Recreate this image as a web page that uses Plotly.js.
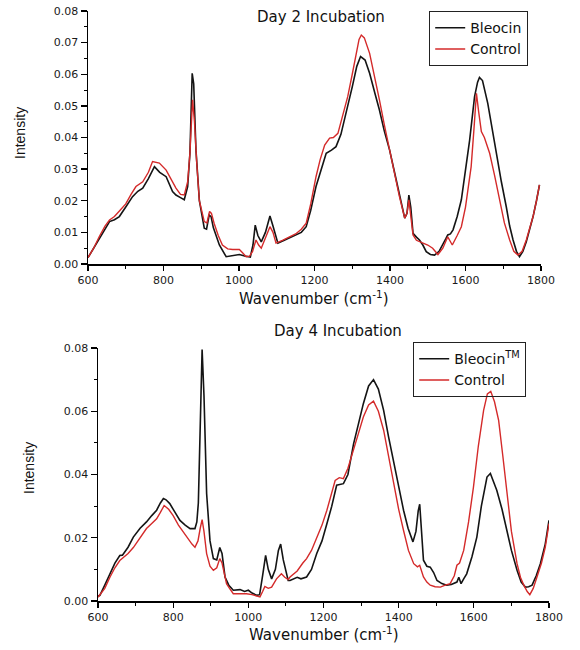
<!DOCTYPE html>
<html>
<head>
<meta charset="utf-8">
<script src="https://cdn.plot.ly/plotly-3.0.1.min.js"></script>
<style>
  html, body { margin: 0; padding: 0; background: #fff; }
  #chart { width: 580px; height: 650px; }
</style>
</head>
<body>
<div id="chart"></div>
<script>
// Raman spectra, Day 2 incubation
const day2BleocinWavenumber = [600,615,630,645,657,670,683,700,718,732,745,760,776,790,807,824,833,845,855,864,870,876,880,886,895,908,914,921,926,932,948,966,975,983,1001,1015,1030,1037,1043,1050,1059,1070,1082,1090,1103,1120,1134,1150,1165,1178,1190,1204,1218,1231,1245,1257,1270,1284,1300,1312,1322,1334,1346,1360,1372,1385,1399,1412,1425,1439,1445,1450,1455,1461,1470,1478,1487,1496,1507,1518,1530,1540,1548,1553,1560,1567,1578,1589,1600,1611,1624,1632,1637,1645,1659,1670,1682,1695,1708,1717,1726,1735,1743,1752,1761,1770,1779,1788,1796];
const day2BleocinIntensity = [0.002,0.005,0.0076,0.011,0.0134,0.014,0.015,0.018,0.0213,0.023,0.024,0.027,0.0308,0.029,0.0276,0.0229,0.0218,0.021,0.0203,0.0245,0.035,0.0603,0.057,0.036,0.020,0.0113,0.011,0.0155,0.015,0.0115,0.006,0.0023,0.0025,0.0028,0.003,0.0025,0.0022,0.006,0.0123,0.009,0.007,0.010,0.0152,0.012,0.0066,0.0075,0.0082,0.009,0.010,0.0118,0.017,0.0245,0.030,0.035,0.036,0.0371,0.041,0.0477,0.056,0.0625,0.0656,0.0645,0.0603,0.054,0.0487,0.042,0.036,0.029,0.0224,0.0145,0.016,0.0218,0.018,0.0097,0.0085,0.0076,0.006,0.0039,0.003,0.0028,0.004,0.006,0.008,0.0092,0.0095,0.0108,0.015,0.0203,0.029,0.0392,0.0529,0.0575,0.059,0.058,0.0508,0.043,0.035,0.026,0.0181,0.012,0.0076,0.004,0.0023,0.004,0.007,0.011,0.015,0.020,0.025];

const day2ControlWavenumber = [600,615,630,645,657,670,685,700,714,727,745,760,771,789,807,820,833,845,855,864,870,877,882,888,895,908,915,922,927,934,945,956,970,983,1001,1010,1019,1028,1036,1045,1052,1059,1070,1082,1090,1098,1115,1134,1150,1165,1178,1190,1204,1215,1227,1240,1250,1262,1275,1288,1300,1310,1318,1324,1332,1346,1360,1372,1385,1399,1412,1425,1439,1445,1450,1455,1461,1470,1487,1500,1513,1527,1540,1553,1558,1565,1578,1589,1600,1608,1615,1622,1629,1635,1642,1650,1664,1677,1690,1703,1717,1728,1739,1750,1761,1770,1779,1788,1796];
const day2ControlIntensity = [0.002,0.005,0.0087,0.012,0.0139,0.015,0.017,0.019,0.022,0.0245,0.026,0.029,0.0324,0.0319,0.0297,0.027,0.024,0.022,0.0218,0.026,0.035,0.0519,0.045,0.032,0.020,0.0134,0.013,0.0166,0.016,0.0129,0.009,0.006,0.0048,0.0046,0.0046,0.0035,0.0023,0.0025,0.004,0.0076,0.006,0.005,0.008,0.0118,0.010,0.0066,0.0075,0.0085,0.0095,0.011,0.0129,0.019,0.0276,0.033,0.0376,0.0398,0.040,0.0413,0.047,0.0529,0.060,0.0666,0.071,0.0724,0.0715,0.0666,0.059,0.0519,0.044,0.036,0.028,0.0213,0.0145,0.016,0.0203,0.016,0.0092,0.0075,0.0066,0.006,0.005,0.003,0.005,0.0086,0.0075,0.006,0.009,0.0118,0.018,0.025,0.0308,0.042,0.054,0.048,0.0419,0.040,0.035,0.028,0.0203,0.013,0.0076,0.004,0.0028,0.004,0.0076,0.011,0.015,0.020,0.025];

// Raman spectra, Day 4 incubation
const day4BleocinWavenumber = [600,605,618,632,645,658,665,680,694,712,729,743,756,766,774,781,791,805,818,832,845,858,863,867,872,877,882,889,898,907,916,924,930,938,948,960,978,990,1000,1010,1022,1030,1038,1046,1053,1062,1072,1080,1086,1093,1106,1111,1130,1140,1155,1168,1182,1196,1209,1222,1235,1253,1265,1280,1293,1306,1320,1333,1346,1360,1373,1386,1400,1413,1425,1438,1446,1452,1456,1461,1466,1475,1484,1493,1502,1515,1528,1540,1555,1560,1566,1573,1581,1595,1608,1620,1635,1644,1652,1661,1675,1688,1700,1715,1726,1737,1746,1755,1766,1777,1790,1800];
const day4BleocinIntensity = [0.0015,0.0018,0.005,0.0086,0.012,0.0144,0.0145,0.017,0.0202,0.023,0.025,0.027,0.0287,0.031,0.0324,0.032,0.0308,0.028,0.0255,0.024,0.0229,0.0229,0.025,0.031,0.055,0.0795,0.065,0.034,0.019,0.0134,0.013,0.0169,0.015,0.0076,0.005,0.0034,0.0036,0.003,0.0034,0.0025,0.0018,0.002,0.008,0.0144,0.010,0.007,0.010,0.016,0.018,0.013,0.0065,0.0065,0.0075,0.007,0.0076,0.010,0.015,0.019,0.0244,0.030,0.0366,0.0371,0.040,0.0497,0.056,0.0624,0.068,0.070,0.067,0.0603,0.052,0.0445,0.036,0.0287,0.023,0.0187,0.022,0.0285,0.0306,0.022,0.0129,0.011,0.0107,0.009,0.0065,0.0055,0.005,0.0052,0.006,0.0075,0.0055,0.007,0.0086,0.014,0.0202,0.030,0.0392,0.0403,0.038,0.035,0.029,0.0223,0.016,0.0097,0.006,0.0044,0.0045,0.005,0.008,0.0118,0.018,0.0255];

const day4ControlWavenumber = [600,618,632,645,658,670,680,694,712,729,743,756,766,776,788,800,814,827,840,850,858,866,872,877,882,889,898,907,916,924,930,942,950,960,980,995,1010,1022,1031,1038,1044,1053,1062,1075,1088,1097,1106,1111,1130,1145,1155,1168,1182,1196,1209,1220,1231,1242,1253,1265,1280,1293,1306,1320,1333,1346,1360,1373,1386,1400,1413,1426,1440,1450,1456,1461,1466,1475,1484,1497,1511,1524,1537,1548,1555,1562,1573,1586,1599,1612,1626,1636,1645,1655,1666,1677,1688,1700,1715,1724,1733,1742,1749,1758,1768,1780,1790,1800];
const day4ControlIntensity = [0.0012,0.004,0.0076,0.0105,0.0128,0.014,0.015,0.0169,0.020,0.0229,0.0245,0.026,0.028,0.0302,0.029,0.027,0.024,0.0218,0.020,0.018,0.017,0.019,0.023,0.0257,0.022,0.015,0.011,0.0097,0.0105,0.0134,0.012,0.0055,0.004,0.0023,0.0023,0.0023,0.002,0.0015,0.0013,0.003,0.0046,0.004,0.0044,0.007,0.0086,0.0075,0.0068,0.0076,0.0095,0.012,0.0134,0.016,0.0202,0.024,0.0287,0.033,0.0381,0.039,0.0387,0.042,0.0476,0.053,0.0582,0.062,0.0632,0.060,0.054,0.046,0.0371,0.029,0.0223,0.016,0.0118,0.0108,0.0113,0.009,0.0076,0.006,0.005,0.0045,0.0044,0.005,0.0055,0.008,0.0113,0.012,0.016,0.025,0.036,0.049,0.0603,0.0655,0.0663,0.063,0.0571,0.046,0.0339,0.022,0.0118,0.0075,0.005,0.003,0.002,0.004,0.0076,0.012,0.017,0.0245];

// Labels
const panelTitles = ['Day 2 Incubation', 'Day 4 Incubation'];
const seriesNames = [['Bleocin', 'Control'], ['Bleocin<sup>TM</sup>', 'Control']];
const xTitle = 'Wavenumber (cm<sup>-1</sup>)';
const yTitle = 'Intensity';

const W = 580, H = 650;
const BLACK = '#141414', RED = '#d42a2a';
const FONT = 'DejaVu Sans, Arial, sans-serif';
const NARROW = 'Liberation Sans, Arial, sans-serif';

const px = v => v / W;
const py = v => 1 - v / H;

const traces = [
  { x: day2BleocinWavenumber, y: day2BleocinIntensity, name: seriesNames[0][0], xaxis: 'x', yaxis: 'y', legend: 'legend',
    mode: 'lines', line: { color: BLACK, width: 1.6 } },
  { x: day2ControlWavenumber, y: day2ControlIntensity, name: seriesNames[0][1], xaxis: 'x', yaxis: 'y', legend: 'legend',
    mode: 'lines', line: { color: RED, width: 1.4 } },
  { x: day4BleocinWavenumber, y: day4BleocinIntensity, name: seriesNames[1][0], xaxis: 'x2', yaxis: 'y2', legend: 'legend2',
    mode: 'lines', line: { color: BLACK, width: 1.6 } },
  { x: day4ControlWavenumber, y: day4ControlIntensity, name: seriesNames[1][1], xaxis: 'x2', yaxis: 'y2', legend: 'legend2',
    mode: 'lines', line: { color: RED, width: 1.4 } }
];

function xAxis(domain, anchor) {
  return {
    domain: domain, anchor: anchor, range: [600, 1800], dtick: 200, tick0: 600,
    showgrid: false, zeroline: false, showline: true, linecolor: '#000', linewidth: 1.5,
    ticks: 'outside', ticklen: 5, tickwidth: 1.3, tickcolor: '#000',
    minor: { dtick: 100, ticks: 'outside', ticklen: 3, tickwidth: 1, tickcolor: '#000', showgrid: false },
    tickfont: { family: FONT, size: 11, color: '#1a1a1a' }, fixedrange: true
  };
}
function yAxis(domain, anchor, dtick, minorDtick) {
  return {
    domain: domain, anchor: anchor, range: [0, 0.08], dtick: dtick, tickformat: '.2f',
    showgrid: false, zeroline: false, showline: true, linecolor: '#000', linewidth: 1.5,
    ticks: 'outside', ticklen: 6, tickwidth: 1.3, tickcolor: '#000',
    minor: { dtick: minorDtick, ticks: 'outside', ticklen: 3, tickwidth: 1, tickcolor: '#000', showgrid: false },
    tickfont: { family: FONT, size: 11, color: '#1a1a1a' }, fixedrange: true
  };
}

const legendStyle = (x, y) => ({
  x: x, y: y, xanchor: 'left', yanchor: 'top', xref: 'paper', yref: 'paper',
  bgcolor: 'rgba(255,255,255,0)', bordercolor: '#222', borderwidth: 1.2,
  font: { family: FONT, size: 14, color: '#111' },
  tracegroupgap: 0, itemwidth: 30
});

const layout = {
  width: W, height: H,
  margin: { l: 0, r: 0, t: 0, b: 0 },
  paper_bgcolor: '#fff', plot_bgcolor: '#fff',
  showlegend: true,
  xaxis: xAxis([px(88), px(541)], 'y'),
  yaxis: yAxis([py(264), py(11)], 'x', 0.01, 0.005),
  xaxis2: xAxis([px(98), px(549)], 'y2'),
  yaxis2: yAxis([py(601), py(348)], 'x2', 0.02, 0.01),
  legend: legendStyle(px(429), py(11)),
  legend2: legendStyle(px(413), py(342)),
  annotations: [
    { text: panelTitles[0], x: px(321), y: py(17), xref: 'paper', yref: 'paper', showarrow: false,
      xanchor: 'center', yanchor: 'middle', font: { family: FONT, size: 15, color: '#111' } },
    { text: panelTitles[1], x: px(338), y: py(331), xref: 'paper', yref: 'paper', showarrow: false,
      xanchor: 'center', yanchor: 'middle', font: { family: FONT, size: 15, color: '#111' } },
    { text: xTitle, x: px(314), y: py(298), xref: 'paper', yref: 'paper', showarrow: false,
      xanchor: 'center', yanchor: 'middle', font: { family: FONT, size: 15, color: '#111' } },
    { text: xTitle, x: px(324), y: py(634), xref: 'paper', yref: 'paper', showarrow: false,
      xanchor: 'center', yanchor: 'middle', font: { family: FONT, size: 15, color: '#111' } },
    { text: yTitle, x: px(20), y: py(133), xref: 'paper', yref: 'paper', showarrow: false, textangle: -90,
      xanchor: 'center', yanchor: 'middle', font: { family: NARROW, size: 14, color: '#111' } },
    { text: yTitle, x: px(29), y: py(468), xref: 'paper', yref: 'paper', showarrow: false, textangle: -90,
      xanchor: 'center', yanchor: 'middle', font: { family: NARROW, size: 14, color: '#111' } }
  ]
};

Plotly.newPlot('chart', traces, layout, { displayModeBar: false, staticPlot: true });
</script>
</body>
</html>
